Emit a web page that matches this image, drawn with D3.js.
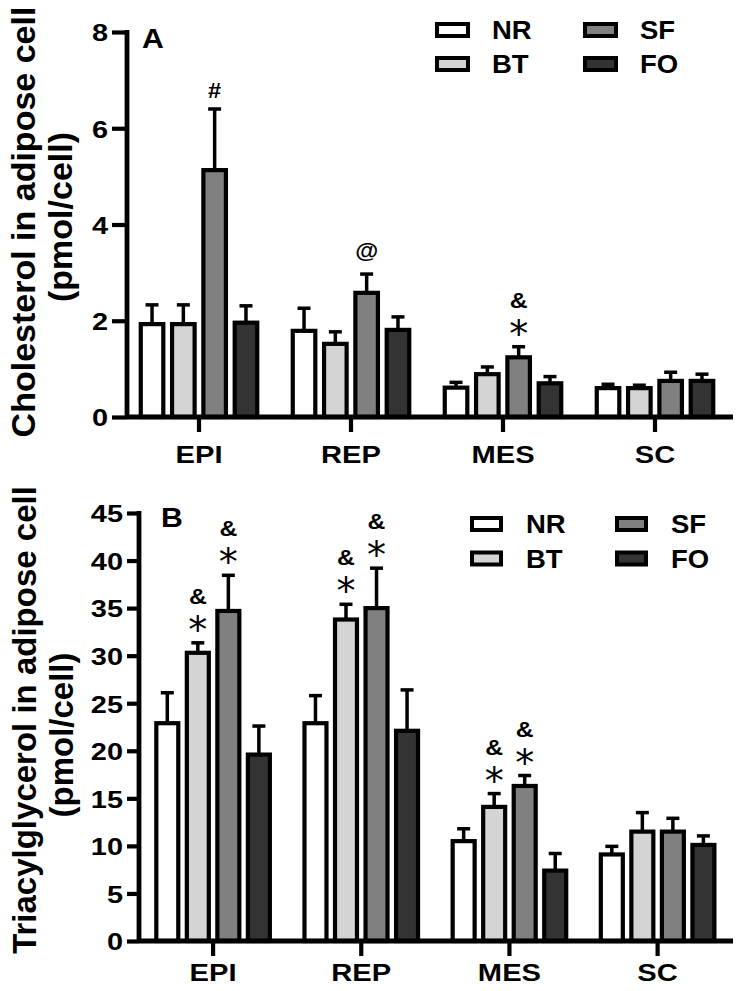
<!DOCTYPE html>
<html><head><meta charset="utf-8">
<script src="https://cdn.jsdelivr.net/npm/d3@7"></script>
<style>body{margin:0;background:#fff}text{font-family:"Liberation Sans",Arial,sans-serif;font-weight:bold;fill:#000}text.star{font-family:"DejaVu Sans",sans-serif;font-weight:normal}</style>
</head><body><svg id="c" width="741" height="991"></svg>
<script>
const categories = ["EPI","REP","MES","SC"];
const groups = ["NR","BT","SF","FO"];
const groupColors = ["#ffffff","#d4d4d4","#808080","#333333"];
// Panel A: cholesterol (pmol/cell)
const cholNR = [1.93,1.79,0.61,0.60], cholNRerr = [0.40,0.47,0.11,0.08];
const cholBT = [1.93,1.52,0.89,0.60], cholBTerr = [0.40,0.25,0.15,0.06];
const cholSF = [5.13,2.58,1.24,0.75], cholSFerr = [1.27,0.39,0.22,0.18];
const cholFO = [1.96,1.81,0.70,0.75], cholFOerr = [0.35,0.27,0.14,0.14];
const cholTicks = [0,2,4,6,8];
const cholMarks = [["EPI","SF",["#"]],["REP","SF",["@"]],["MES","SF",["*","&"]]];
// Panel B: triacylglycerol (pmol/cell)
const tagNR = [22.9,22.9,10.5,9.1], tagNRerr = [3.2,2.9,1.3,0.85];
const tagBT = [30.3,33.8,14.1,11.5], tagBTerr = [1.05,1.6,1.4,2.0];
const tagSF = [34.7,35.0,16.3,11.5], tagSFerr = [3.75,4.2,1.1,1.4];
const tagFO = [19.6,22.1,7.4,10.1], tagFOerr = [3.0,4.3,1.8,0.95];
const tagTicks = [0,5,10,15,20,25,30,35,40,45];
const tagMarks = [["EPI","BT",["*","&"]],["EPI","SF",["*","&"]],["REP","BT",["*","&"]],["REP","SF",["*","&"]],["MES","BT",["*","&"]],["MES","SF",["*","&"]]];

const svg = d3.select("#c");

function stext(g, x, y, sx, fs, str, anchor){
  return g.append("text").attr("transform",`translate(${x},${y}) scale(${sx},1)`)
    .attr("text-anchor",anchor||"start").attr("font-size",fs).text(str);
}

function panel(cfg){
  const g = svg.append("g");
  const y = d3.scaleLinear().domain(cfg.domain).range([cfg.y0, cfg.y1]);
  const x = d3.scaleBand().domain(categories).range(cfg.xr);
  const sub = d3.scaleBand().domain(groups).range([-0.412*x.step(), 0.412*x.step()]).paddingInner(0.28).paddingOuter(0.14);
  const rows = [];
  categories.forEach((c,i)=>groups.forEach((s,j)=>{
    rows.push({c, s, j, v: cfg.means[j][i], e: cfg.errs[j][i]});
  }));
  const cx = d => x(d.c) + x.bandwidth()/2 + sub(d.s) + sub.bandwidth()/2;
  // error bars
  g.selectAll(".eb").data(rows).join("line")
    .attr("x1",cx).attr("x2",cx).attr("y1",d=>y(d.v)).attr("y2",d=>y(d.v+d.e))
    .attr("stroke","#000").attr("stroke-width",3.5);
  g.selectAll(".cap").data(rows).join("line")
    .attr("x1",d=>cx(d)-6.5).attr("x2",d=>cx(d)+6.5).attr("y1",d=>y(d.v+d.e)).attr("y2",d=>y(d.v+d.e))
    .attr("stroke","#000").attr("stroke-width",3.5);
  // bars
  g.selectAll(".bar").data(rows).join("rect")
    .attr("x",d=>x(d.c)+x.bandwidth()/2+sub(d.s)).attr("width",sub.bandwidth())
    .attr("y",d=>y(d.v)).attr("height",d=>y(0)-y(d.v))
    .attr("fill",d=>groupColors[d.j]).attr("stroke","#000").attr("stroke-width",4.2);
  // y axis
  const sxT = 1.18, pad = 4;
  const ax = g.append("g").attr("transform",`translate(${cfg.ax},0)`)
    .call(d3.axisLeft(y).tickValues(cfg.ticks).tickSize(cfg.tick).tickSizeOuter(0).tickPadding(pad));
  ax.attr("font-family",null).attr("font-size",null);
  ax.select(".domain").attr("stroke-width",4.8).attr("d",`M0,${y(0)+2}V${y(cfg.domain[1])-2}`);
  ax.selectAll(".tick line").attr("stroke-width",4.2);
  ax.selectAll(".tick text").attr("font-size",24.5).attr("fill","#000")
    .attr("x",-(cfg.tick+pad)/sxT).attr("transform",`scale(${sxT},1)`).attr("dy","0.36em");
  // x axis
  g.append("line").attr("x1",cfg.ax).attr("x2",733).attr("y1",y(0)).attr("y2",y(0)).attr("stroke","#000").attr("stroke-width",4.8);
  g.selectAll(".xt").data(categories).join("line")
    .attr("x1",d=>x(d)+x.bandwidth()/2).attr("x2",d=>x(d)+x.bandwidth()/2)
    .attr("y1",y(0)).attr("y2",y(0)+15).attr("stroke","#000").attr("stroke-width",4.2);
  categories.forEach(c=>stext(g, x(c)+x.bandwidth()/2, cfg.catY, 1.24, 23.5, c, "middle"));
  // y title
  g.append("text").attr("transform",`translate(${cfg.tx1},${cfg.tcy}) rotate(-90)`).attr("text-anchor","middle").attr("font-size",cfg.tfs).text(cfg.title1);
  g.append("text").attr("transform",`translate(${cfg.tx2},${cfg.tcy2}) rotate(-90)`).attr("text-anchor","middle").attr("font-size",cfg.tfs).text("(pmol/cell)");
  // panel label
  stext(g, cfg.lblX, cfg.lblY, 1.12, 27, cfg.label);
  // annotations
  cfg.marks.forEach(([c,s,ms])=>{
    const d = rows.find(r=>r.c===c && r.s===s);
    const top = y(d.v+d.e);
    ms.forEach(m=>{
      if(m==="*"){
        g.append("text").attr("class","star").attr("x",cx(d)).attr("y",top).attr("text-anchor","middle")
          .attr("font-size",38).text(m);
      } else if(m==="&"){
        stext(g, cx(d), top-47+8, 1.1, 22.5, m, "middle");
      } else if(m==="#"){
        stext(g, cx(d), top-19+8, 1.05, 22.5, m, "middle");
      } else {
        stext(g, cx(d), top-22.5+6, 1.05, 22.5, m, "middle");
      }
    });
  });
  // legend
  groups.forEach((s,j)=>{
    const col = Math.floor(j/2), row = j%2;
    const bx = cfg.legX[col], by = cfg.legY[row];
    g.append("rect").attr("x",bx+2).attr("y",by-6).attr("width",cfg.legW-4).attr("height",12)
      .attr("fill",groupColors[j]).attr("stroke","#000").attr("stroke-width",4);
    stext(g, bx+cfg.legTx, by+9, 1.1, 25, s);
  });
}

panel({domain:[0,8], y0:417, y1:32, xr:[123,731], ax:127, tick:15, ticks:cholTicks,
  means:[cholNR,cholBT,cholSF,cholFO], errs:[cholNRerr,cholBTerr,cholSFerr,cholFOerr],
  catY:463, title1:"Cholesterol in adipose cell", tfs:34, tx1:35, tx2:72, tcy:222, tcy2:217,
  label:"A", lblX:142, lblY:48, marks:cholMarks,
  legX:[435,583], legY:[30,64], legW:35, legTx:57});

panel({domain:[0,45], y0:941, y1:513, xr:[139,731.7], ax:139, tick:12, ticks:tagTicks,
  means:[tagNR,tagBT,tagSF,tagFO], errs:[tagNRerr,tagBTerr,tagSFerr,tagFOerr],
  catY:981, title1:"Triacylglycerol in adipose cell", tfs:33, tx1:36, tx2:73, tcy:720, tcy2:735,
  label:"B", lblX:161, lblY:527, marks:tagMarks,
  legX:[470,615], legY:[524,558.5], legW:33, legTx:56});
</script></body></html>
